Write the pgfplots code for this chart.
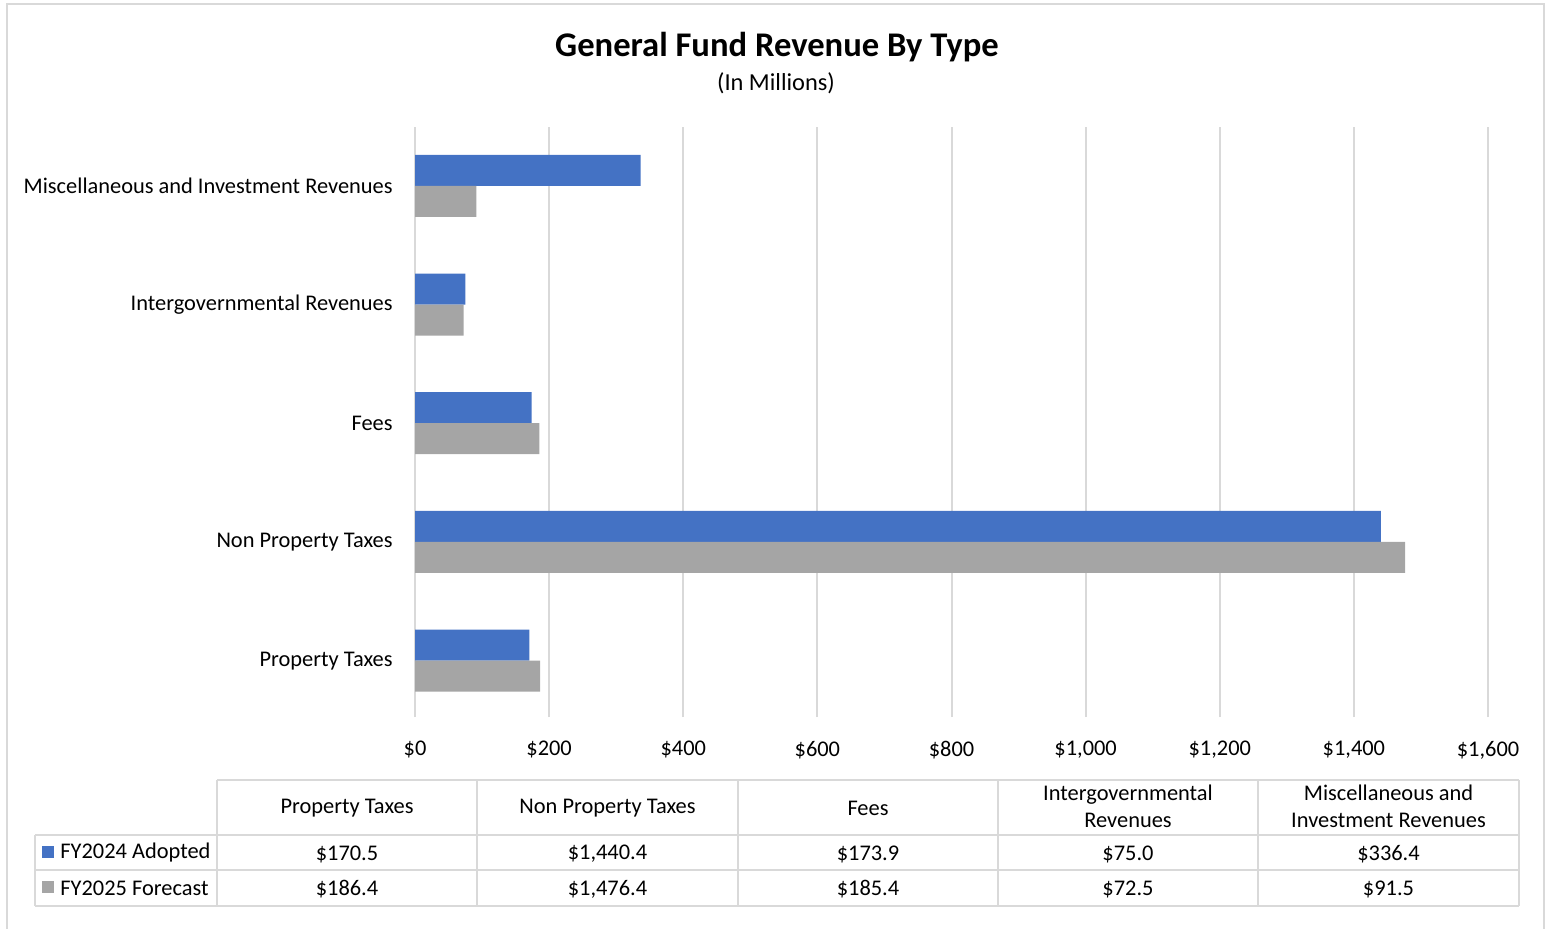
\documentclass[border=0pt]{standalone}
\usepackage{pgfplots}
\pgfplotsset{compat=1.18}
\usepackage{fontspec}
\setmainfont{Carlito}
\definecolor{barblue}{HTML}{4472C4}
\definecolor{bargray}{HTML}{A5A5A5}
\definecolor{gridgray}{HTML}{D9D9D9}
\definecolor{framegray}{HTML}{D9D9D9}
\begin{document}
\begin{tikzpicture}
\begin{scope}[x=0.5pt,y=-0.5pt]
\path[use as bounding box] (0,0) rectangle (1546,929);
\draw[framegray, line width=1pt] (7,940) -- (7,4) -- (1544,4) -- (1544,940);
\node[font=\fontsize{17.3pt}{20pt}\selectfont\bfseries] at (777,47) {General Fund Revenue By Type};
\node[font=\fontsize{12.2pt}{14pt}\selectfont] at (776,83) {(In Millions)};
% data table grid
\begin{scope}[draw=gridgray, line width=1pt]
\draw (217,780) -- (1519,780);
\draw (35,835) -- (1519,835);
\draw (35,870) -- (1519,870);
\draw (35,906) -- (1519,906);
\draw (35,835) -- (35,906);
\foreach \xx in {217,477,738,998,1258,1519} {\draw (\xx,780) -- (\xx,906);}
\end{scope}
\begin{scope}[every node/.style={font=\fontsize{11.2pt}{13.5pt}\selectfont, align=center, inner sep=0pt}]
\node at (347,808) {Property Taxes};
\node at (607.5,808) {Non Property Taxes};
\node at (868,808) {Fees};
\node at (1128,806) {Intergovernmental\\Revenues};
\node at (1388.5,806) {Miscellaneous and\\Investment Revenues};
\node at (347,854) {\$170.5};
\node at (607.5,854) {\$1,440.4};
\node at (868,854) {\$173.9};
\node at (1128,854) {\$75.0};
\node at (1388.5,854) {\$336.4};
\node at (347,889) {\$186.4};
\node at (607.5,889) {\$1,476.4};
\node at (868,889) {\$185.4};
\node at (1128,889) {\$72.5};
\node at (1388.5,889) {\$91.5};
\fill[barblue] (42,846) rectangle (54,858);
\fill[bargray] (42,881) rectangle (54,893);
\node[anchor=west] at (60,853) {FY2024 Adopted};
\node[anchor=west] at (60,888) {FY2025 Forecast};
\end{scope}
\end{scope}
\begin{axis}[
  at={(207.5pt,-358.5pt)}, anchor=south west,
  scale only axis, width=536.5pt, height=295pt,
  xmin=0, xmax=1600, ymin=-0.475, ymax=4.496,
  xtick={0,200,...,1600},
  ytick={0,1,2,3,4},
  yticklabels={Property Taxes, Non Property Taxes, Fees, Intergovernmental Revenues, Miscellaneous and Investment Revenues},
  /pgf/number format/.cd, 1000 sep={,}, assume math mode=true, /pgfplots/.cd,
  xticklabel={\$\pgfmathprintnumber{\tick}},
  xticklabel style={inner sep=0pt, anchor=north, yshift=-12pt, font=\fontsize{11.2pt}{13pt}\selectfont},
  yticklabel style={inner sep=0pt, anchor=east, xshift=-11pt, font=\fontsize{11.2pt}{13pt}\selectfont},
  major tick length=0pt,
  axis line style={draw=none},
  xmajorgrids, ymajorgrids=false,
  grid style={draw=gridgray, line width=1pt},
  xbar, bar width=15.5pt,
  clip=false,
]
\addplot[fill=barblue, draw=none, bar shift=7.75pt] coordinates {(170.5,0) (1440.4,1) (173.9,2) (75.0,3) (336.4,4)};
\addplot[fill=bargray, draw=none, bar shift=-7.75pt] coordinates {(186.4,0) (1476.4,1) (185.4,2) (72.5,3) (91.5,4)};
\end{axis}
\end{tikzpicture}
\end{document}
